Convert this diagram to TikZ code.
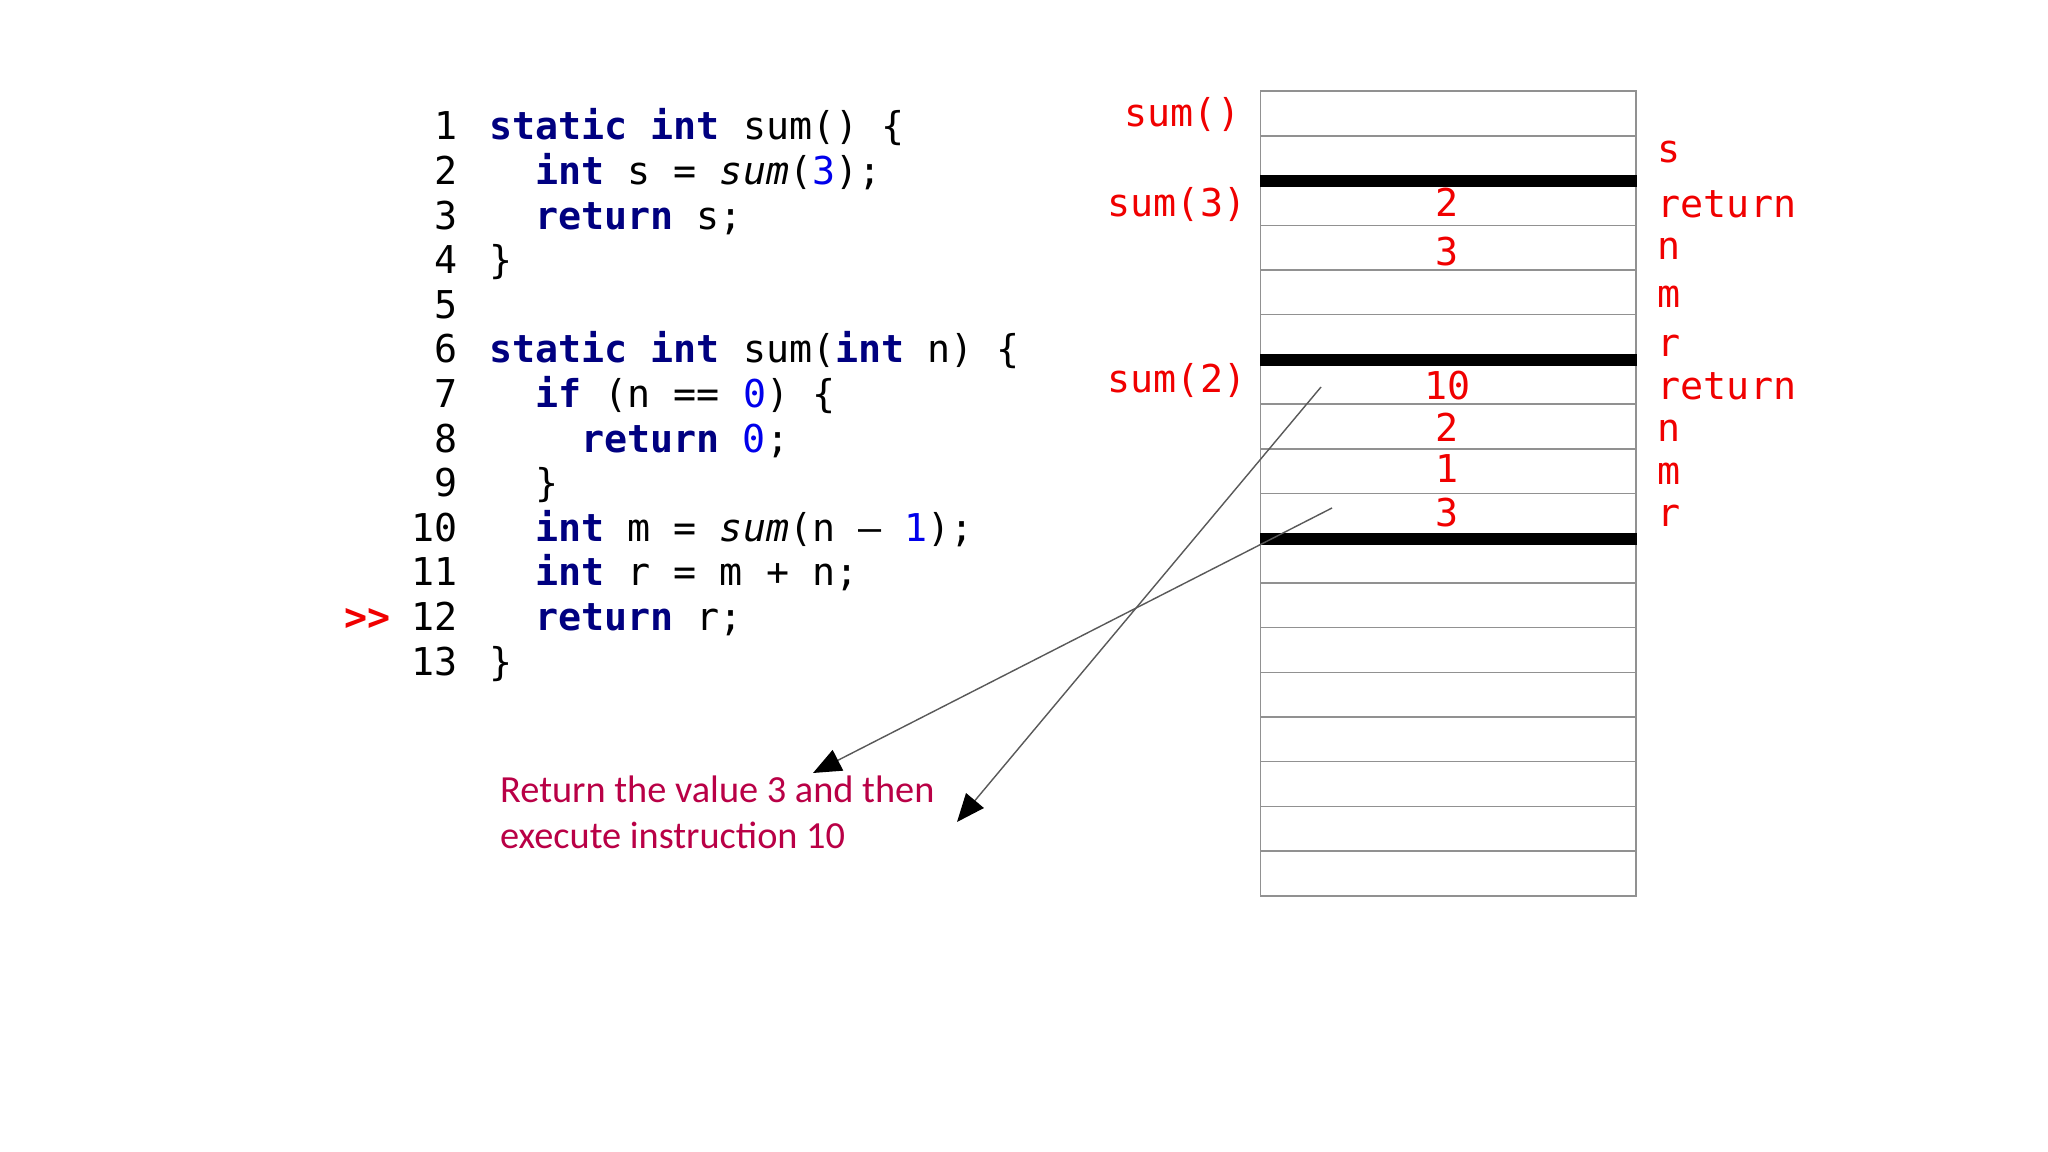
\documentclass[tikz,border=0pt]{standalone}
\usepackage{fontspec}
\usetikzlibrary{arrows.meta}
\newfontfamily\codefont{DejaVu Sans Mono}[BoldFont={DejaVu Sans Mono Bold},ItalicFont={DejaVu Sans Mono Oblique},BoldItalicFont={DejaVu Sans Mono Bold Oblique}]
\newfontfamily\capfont{Carlito}
\definecolor{kwc}{RGB}{0,0,128}
\definecolor{numc}{RGB}{0,0,235}
\definecolor{lblc}{RGB}{240,0,0}
\definecolor{capc}{RGB}{185,0,70}
\definecolor{gridc}{RGB}{145,145,145}
\newcommand\kwd[1]{\textcolor{kwc}{\bfseries #1}}
\newcommand\nmb[1]{\textcolor{numc}{#1}}
\begin{document}
\begin{tikzpicture}[x=0.01cm,y=-0.01cm,
  mono/.style={inner sep=0pt,font=\codefont\fontsize{10.9}{13}\selectfont},
  code/.style={mono,anchor=base west},
  lno/.style={mono,anchor=base east},
  lbl/.style={mono,anchor=base west,text=lblc},
  val/.style={mono,anchor=base,text=lblc},
  cell/.style={draw=gridc,line width=0.4pt,minimum width=3.75cm,minimum height=0.447cm,inner sep=0pt,anchor=north west},
  sepline/.style={line width=0.12cm,line cap=butt,draw=black},
  ptr/.style={draw=black!65,line width=0.4pt,-{Triangle[length=0.28cm,width=0.23cm,color=black,fill=black]}},
  captext/.style={anchor=base west,inner sep=0pt,text=capc,font=\capfont\fontsize{10.9}{13}\selectfont}]
\fill[white] (0,0) rectangle (2048,1152);

% line numbers
\foreach \i in {1,...,13}{
  \node[lno] (n\i) at (458,{140+(\i-1)*44.6}) {\i};
}
\node[lbl,anchor=base west,font=\codefont\bfseries\fontsize{10.9}{13}\selectfont] (cur) at (344,630.6) {>\kern0pt>};

% code
\node[code] (l1) at (488.5,140) {\kwd{static int} sum() \{};
\node[code] (l2) at (534.6,184.6) {\kwd{int} s = \textit{sum}(\nmb{3});};
\node[code] (l3) at (534.6,229.2) {\kwd{return} s;};
\node[code] (l4) at (488.5,273.8) {\}};
\node[code] (l6) at (488.5,363) {\kwd{static int} sum(\kwd{int} n) \{};
\node[code] (l7) at (534.6,407.6) {\kwd{if} (n == \nmb{0}) \{};
\node[code] (l8) at (580.7,452.2) {\kwd{return} \nmb{0};};
\node[code] (l9) at (534.6,496.8) {\}};
\node[code] (l10) at (534.6,541.4) {\kwd{int} m = \textit{sum}(n – \nmb{1});};
\node[code] (l11) at (534.6,586) {\kwd{int} r = m + n;};
\node[code] (l12) at (534.6,630.6) {\kwd{return} r;};
\node[code] (l13) at (488.5,675.2) {\}};

% stack cells
\foreach \i in {0,...,17}{
  \node[cell] (c\i) at (1260,{90.5+\i*44.7}) {};
}
\draw[sepline] (c1.south west) -- (c1.south east);
\draw[sepline] (c5.south west) -- (c5.south east);
\draw[sepline] (c9.south west) -- (c9.south east);

% values
\node[val] (v2) at (1447.5,217) {2};
\node[val] (v3) at (1447.5,266) {3};
\node[val] (v6) at (1447.5,400) {10};
\node[val] (v7) at (1447.5,442) {2};
\node[val] (v8) at (1447.5,483) {1};
\node[val] (v9) at (1447.5,527) {3};

% frame labels
\node[lbl] (f0) at (1124,127) {sum()};
\node[lbl] (f1) at (1107,217) {sum(3)};
\node[lbl] (f2) at (1107,393) {sum(2)};

% variable labels
\node[lbl] (r1) at (1657,163) {s};
\node[lbl] (r2) at (1657,218) {return};
\node[lbl] (r3) at (1657,260) {n};
\node[lbl] (r4) at (1657,308) {m};
\node[lbl] (r5) at (1657,357) {r};
\node[lbl] (r6) at (1657,400) {return};
\node[lbl] (r7) at (1657,442) {n};
\node[lbl] (r8) at (1657,485) {m};
\node[lbl] (r9) at (1657,527) {r};

% caption
\node[captext] (cap1) at (499.5,802.7) {Return the value 3 and then};
\node[captext] (cap2) at (499.5,848.3) {execute instruction 10};

% pointers
\coordinate (pA) at (1332,508);
\coordinate (tA) at (813,773);
\coordinate (pB) at (1321,387);
\coordinate (tB) at (957,822);
\draw[ptr] (pA) -- (tA);
\draw[ptr] (pB) -- (tB);
\end{tikzpicture}
\end{document}
